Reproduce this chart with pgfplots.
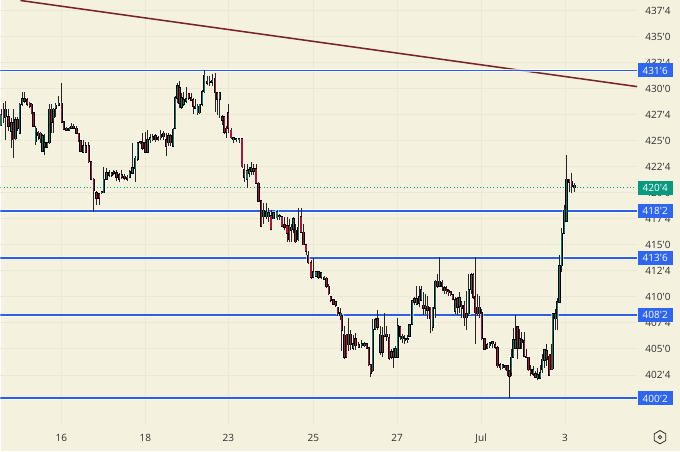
\documentclass[border=0pt]{standalone}
\usepackage{pgfplots}
\usepackage{pgfplotstable}
\usepackage{fontspec}
\pgfplotsset{compat=1.18}
\newfontfamily\tv{Open Sans}
\definecolor{bg}{HTML}{F4F1DE}
\definecolor{gridc}{HTML}{EBE8D5}
\definecolor{hblue}{HTML}{2B5FE8}
\definecolor{tagblue}{HTML}{2E66F2}
\definecolor{tgreen}{HTML}{089981}
\definecolor{cgreen}{HTML}{0A7A66}
\definecolor{cred}{HTML}{B5122C}
\definecolor{trend}{HTML}{7B2229}
\definecolor{lab}{HTML}{2E2E2E}
% x (pixel column) high low bodytop bodybottom
\pgfplotstableread{
x h l t b
3.3 428.6 426.7 428.0 427.2
8 428.0 425.9 427.3 426.4
12.7 428.0 423.3 426.7 425.1
17.3 427.3 425.9 427.0 426.2
24 429.7 428.6 429.0 428.8
26.7 429.1 428.3 428.9 428.5
29.3 428.7 428.1 428.6 428.3
31.3 428.6 427.6 428.5 427.7
33 427.8 426.3 427.7 426.4
37.7 425.9 425.1 425.8 425.5
44 425.6 423.6 424.8 424.4
51 428.5 425.7 428.0 426.8
61.3 430.5 426.7 428.6 426.8
63.3 426.9 426.0 426.8 426.1
66 426.3 425.9 426.2 426.0
73.3 426.6 426.2 426.4 426.2
76 426.4 425.6 426.2 425.7
78.3 425.7 424.9 425.7 425.1
80 425.1 424.0 425.0 424.0
85.3 424.9 423.8 424.5 423.9
88.3 424.9 422.9 424.5 423.0
90.7 423.1 421.2 423.0 421.3
93.3 421.4 418.2 421.3 420.2
96 420.2 418.8 420.0 419.5
98.7 419.9 418.8 419.9 419.5
111.3 422.0 421.5 421.9 421.7
116 422.2 421.1 421.9 421.5
118.7 421.9 421.0 421.7 421.3
124 421.8 421.2 421.6 421.4
126.7 421.7 421.1 421.5 421.3
140 425.0 424.7 424.9 424.8
142 425.7 424.1 424.8 424.3
144.7 425.8 423.8 424.8 423.9
155 425.6 424.9 425.5 425.1
157.7 425.5 425.0 425.3 425.1
163 425.9 425.1 425.7 425.4
165.7 425.7 423.5 425.1 424.5
170 425.6 424.5 425.5 424.8
179 430.7 428.1 430.1 428.6
188.3 429.6 428.9 429.5 429.1
190.7 429.6 428.8 429.1 428.9
192.7 429.1 427.6 428.9 428.3
195 429.0 428.0 428.3 428.1
206.7 431.2 430.4 430.7 430.5
214.7 431.5 427.8 431.0 429.6
217 429.7 427.5 429.6 429.0
221.7 427.5 426.5 427.3 427.0
224 427.3 425.6 427.3 425.8
226 426.4 425.3 426.2 425.8
228 428.5 425.7 427.7 426.2
230.7 426.2 425.2 426.0 425.3
241.7 425.3 422.4 425.2 422.5
244 422.8 421.0 422.2 421.5
255.7 422.8 420.9 422.3 420.9
258.3 421.0 419.1 420.9 419.2
261 419.3 416.7 419.2 416.8
270.7 418.3 416.4 417.8 416.5
279.3 418.0 417.4 417.8 417.7
281.7 417.8 416.8 417.7 416.8
284.3 417.7 416.4 416.9 416.7
286.7 417.7 415.3 416.8 416.1
289 417.5 415.3 416.8 415.5
295.3 417.0 415.2 416.4 415.3
300.7 418.5 416.2 417.7 416.2
303.3 417.0 415.0 416.2 415.0
305.7 415.1 414.0 415.0 414.4
308 414.4 413.2 414.0 413.3
310.7 413.5 411.7 413.3 411.9
318.3 412.5 411.7 412.4 411.9
324 412.0 411.6 411.9 411.7
326.3 411.9 410.9 411.8 411.0
328.7 411.2 410.2 411.0 410.3
330.7 410.1 409.5 410.0 409.7
333.3 409.8 409.2 409.7 409.3
335.7 409.6 409.0 409.5 409.2
337.7 409.0 408.2 409.0 408.4
341.7 408.5 404.8 408.2 406.8
344 407.2 404.0 406.4 404.2
346 406.4 404.2 406.3 404.2
350.7 406.8 404.9 406.4 405.4
355.3 406.5 404.9 406.0 405.3
358.7 405.7 405.1 405.4 405.2
366.7 405.5 405.0 405.5 405.1
368.7 405.2 403.4 405.1 403.5
370.7 403.5 402.3 403.5 402.7
377.3 408.7 406.8 407.9 407.1
382.3 407.1 404.2 406.3 404.7
386.7 407.2 405.8 406.4 406.2
389 406.4 403.9 406.1 404.1
393.3 405.1 403.2 404.7 404.2
400 407.2 405.9 407.1 406.2
404.7 406.3 405.5 406.0 405.8
414.3 410.0 409.2 409.8 409.5
419 411.0 409.0 410.0 409.4
423.3 410.5 408.3 409.2 408.9
427.3 410.1 407.9 409.1 408.7
430 409.0 406.5 409.0 407.9
437.3 412.2 410.9 411.5 411.0
442 411.6 410.6 411.4 411.0
444.3 411.0 410.3 410.9 410.6
446.7 411.0 410.3 410.7 410.5
448.7 410.8 410.1 410.6 410.4
450.7 410.6 410.1 410.5 410.2
452.7 410.3 409.7 410.2 409.8
457.3 410.0 408.3 409.8 409.0
461.7 409.6 408.0 409.2 408.9
464 409.6 407.2 409.2 408.0
473 412.3 409.8 412.1 410.0
475 413.8 405.5 410.0 408.5
477.3 410.3 408.2 409.0 408.4
481.7 408.8 405.9 408.5 406.0
484.3 406.0 404.9 406.0 405.0
492.3 405.8 405.1 405.7 405.5
495 405.7 405.0 405.4 405.2
497.3 405.3 403.2 405.1 403.4
500 403.7 403.0 403.5 403.2
505 403.5 403.0 403.4 403.2
507.3 403.5 402.4 403.4 402.9
509.3 403.0 400.3 402.9 402.4
517.3 407.2 404.0 407.1 405.1
521.7 406.6 405.0 405.9 405.6
524 406.6 404.2 405.8 404.3
526 405.0 404.2 404.3 404.2
528.3 404.2 402.9 404.2 403.0
530.7 403.5 402.4 403.0 402.7
535.3 402.9 402.2 402.6 402.3
546.7 405.5 403.4 404.8 404.0
549 404.5 402.5 404.3 402.5
551 405.5 403.0 404.5 403.0
569 421.3 420.1 421.3 421.0
571.7 421.9 420.0 421.1 420.6
}\downbars
\pgfplotstableread{
x h l t b
0.7 428.0 426.4 427.5 426.5
5.3 428.8 425.1 428.0 427.3
10.7 427.2 424.3 426.7 425.9
15 427.3 425.1 427.0 425.2
19.3 428.6 425.7 428.5 425.7
21.7 429.7 428.3 429.0 428.5
35.3 426.4 424.6 426.2 424.9
40 425.8 424.8 425.7 425.2
42 425.6 424.0 425.5 424.0
46.7 424.9 424.3 424.8 424.4
49 428.5 424.7 428.0 424.8
53.3 428.1 425.7 428.0 427.2
55.3 428.6 427.3 428.4 428.1
58.3 429.3 428.3 428.6 428.4
68.7 426.3 426.0 426.2 426.0
71 426.7 426.1 426.4 426.2
82.7 425.1 423.8 424.5 423.9
101.3 420.1 419.9 420.1 420.0
103.3 422.5 420.0 421.3 420.0
106 422.4 421.3 421.9 421.3
108.7 422.2 421.5 421.9 421.7
113.3 422.2 421.7 422.0 421.9
121.3 422.2 421.3 421.7 421.5
129.3 422.2 421.5 422.0 421.5
132 424.8 421.8 422.4 421.9
134.7 423.5 421.0 423.3 422.3
137.3 424.9 423.1 424.8 423.2
147 426.0 423.9 425.1 423.9
149.7 425.6 424.8 425.3 425.1
152.3 425.6 425.0 425.4 425.1
160.3 426.0 425.1 425.6 425.3
168 425.7 424.5 425.5 424.8
172.7 426.2 424.4 426.1 424.5
174.7 429.3 426.2 429.1 426.2
177 430.5 428.6 430.3 429.1
181 429.6 428.0 429.1 428.2
183.3 429.7 428.3 428.9 428.5
185.7 430.2 428.6 429.0 428.8
197.3 428.5 427.5 428.3 427.7
199.3 428.5 427.6 428.5 427.7
201.7 429.9 428.3 429.7 428.5
204 431.8 429.6 431.3 429.7
209.3 431.2 430.3 430.7 430.6
212 431.4 430.3 430.8 430.6
219.3 429.7 427.2 429.6 429.0
233.3 425.4 424.8 425.3 425.1
236 425.3 424.9 425.2 425.1
238.7 425.3 424.8 425.2 425.1
246.7 422.8 420.5 422.1 421.3
249 422.5 421.5 422.2 421.9
251 423.0 421.7 422.4 422.1
253.3 422.8 421.7 422.3 422.1
263.3 419.0 417.0 418.3 417.7
266 419.0 417.5 418.2 417.7
268.3 418.5 417.2 418.1 417.7
273.3 418.2 417.5 418.1 417.5
276.7 418.3 417.4 418.2 417.6
291 417.0 415.3 416.7 416.4
293.3 417.7 416.1 417.5 416.5
298 418.5 415.4 416.7 415.5
313 413.7 411.8 412.4 411.9
315.7 412.5 411.9 412.4 412.0
321 412.4 411.7 412.3 411.9
340 408.9 407.8 408.5 408.2
348.3 408.0 404.8 406.4 405.4
353 406.3 404.9 405.5 405.1
361.7 405.9 405.1 405.5 405.3
364.3 405.7 405.2 405.5 405.3
372.7 407.9 402.8 406.9 402.9
375 408.0 406.8 407.8 406.9
380 407.2 404.4 406.4 404.7
384.7 408.5 406.2 406.4 406.2
391.3 405.0 404.0 404.7 404.2
395.3 405.3 404.2 405.0 404.2
397.7 408.0 404.1 407.2 404.2
402.3 406.4 405.6 406.2 406.0
407.3 406.3 405.6 406.0 405.9
409.3 407.4 406.2 407.3 406.2
412 409.7 407.4 409.6 407.4
416.7 411.0 409.2 409.8 409.3
421 411.0 409.7 410.7 409.7
425.3 410.3 408.4 409.1 408.9
432.7 409.0 406.7 409.0 407.1
435 411.6 408.0 411.5 408.9
439.7 413.8 411.0 411.5 411.0
455 410.0 408.4 409.7 408.6
459.3 410.5 408.5 409.9 409.1
466.3 410.6 406.8 408.4 408.0
468.7 412.2 408.2 410.7 408.4
471 412.3 410.3 412.1 410.7
479.3 410.1 408.0 409.0 408.4
487 405.6 405.0 405.4 405.1
489.7 405.7 405.1 405.6 405.3
502.7 403.6 403.1 403.5 403.2
511 405.0 402.4 404.2 402.7
513 407.0 404.2 405.9 404.2
515 408.3 405.1 405.9 405.1
519.3 406.9 405.0 406.0 405.1
533 403.4 402.4 403.0 402.6
537.7 403.2 402.0 402.5 402.2
540 403.5 402.1 402.7 402.2
542 404.5 402.7 404.0 403.0
544.3 405.0 403.2 404.9 403.9
552.7 408.5 403.0 408.4 403.1
555 408.8 406.8 408.4 407.9
557 409.9 406.8 409.5 407.9
559.3 414.0 409.5 413.0 409.5
561.7 416.6 412.4 416.1 413.0
564 418.8 416.0 418.3 416.1
566.3 423.6 417.2 421.3 417.3
574.3 420.9 420.1 420.7 420.5
}\upbars
\newcommand{\halo}[1]{%
  \addplot[draw=none,mark=none,forget plot,error bars/.cd,y dir=plus,y explicit,error mark=none,
    error bar style={draw=white,opacity=0.55,line width=2.7pt}]
    table[x=x,y expr=\thisrow{b}-0.12,y error expr=\thisrow{t}-\thisrow{b}+0.24] {#1};
}
\newcommand{\candles}[2]{%
  \addplot[draw=none,mark=none,forget plot,error bars/.cd,y dir=plus,y explicit,error mark=none,
    error bar style={draw=black!85,line width=0.7pt}]
    table[x=x,y=l,y error expr=\thisrow{h}-\thisrow{l}] {#1};
  \addplot[draw=none,mark=none,forget plot,error bars/.cd,y dir=plus,y explicit,error mark=none,
    error bar style={draw=black,line width=1.7pt}]
    table[x=x,y expr=\thisrow{b}-0.06,y error expr=\thisrow{t}-\thisrow{b}+0.12] {#1};
  \addplot[draw=none,mark=none,forget plot,error bars/.cd,y dir=plus,y explicit,error mark=none,
    error bar style={draw=#2,line width=0.8pt}]
    table[x=x,y=b,y error expr=\thisrow{t}-\thisrow{b}] {#1};
}
\newcommand{\levelline}[1]{%
  \addplot[white,opacity=0.7,line width=2.4pt,forget plot] coordinates {(0,#1)(637,#1)};
  \addplot[hblue,line width=1.4pt,forget plot] coordinates {(0,#1)(637,#1)};
}
\newcommand{\tagnode}[3]{%
  \node[fill=#3,text=white,font=\tv\fontsize{7.5}{9}\selectfont,minimum width=26.25pt,minimum height=10.5pt,inner sep=0pt] at (axis cs:655.2,#1) {#2};
}
\pgfplotsset{base/.style={
  scale only axis,width=477.75pt,height=318.75pt,
  at={(0pt,19.5pt)},anchor=south west,
  xmin=0,xmax=637,ymin=397.68,ymax=438.468}}
\begin{document}
\begin{tikzpicture}
\fill[bg] (0pt,0pt) rectangle (510pt,338.25pt);
\begin{axis}[base,
  axis line style={draw=none},
  major tick length=0pt,
  grid=major,grid style={gridc,line width=0.75pt},
  xtick={61,145,228,313,397,481,565},
  xticklabels={16,18,23,25,27,Jul,3},
  ytick={402.5,405,407.5,410,412.5,415,417.5,420,422.5,425,427.5,430,432.5,435,437.5},
  yticklabels={402'4,405'0,407'4,410'0,412'4,415'0,417'4,420'0,422'4,425'0,427'4,430'0,432'4,435'0,437'4},
  ticklabel pos=right,
  xticklabel pos=bottom,
  tick label style={font=\tv\fontsize{7.5}{9}\selectfont,text=lab},
  yticklabel style={xshift=2.75pt},
  xticklabel style={yshift=-3pt},
]
\addplot[tgreen,dotted,line width=0.5pt,forget plot] coordinates {(0,420.5)(637,420.5)};
\addplot[trend,line width=1.15pt,forget plot] coordinates {(20,438.468)(637,430.2)};
\levelline{431.75}
\levelline{418.25}
\levelline{413.75}
\levelline{408.25}
\levelline{400.25}
\halo{\downbars}
\halo{\upbars}
\candles{\downbars}{cred}
\candles{\upbars}{cgreen}
\end{axis}
\begin{axis}[base,hide axis,clip=false]
\tagnode{431.75}{431'6}{tagblue}
\tagnode{418.25}{418'2}{tagblue}
\tagnode{413.75}{413'6}{tagblue}
\tagnode{408.25}{408'2}{tagblue}
\tagnode{400.25}{400'2}{tagblue}
\tagnode{420.5}{420'4}{tgreen}
\end{axis}
\draw[lab,line width=0.6pt] (495pt,10.5pt) ++(30:5pt) -- ++(150:5pt) -- ++(210:5pt) -- ++(270:5pt) -- ++(330:5pt) -- ++(30:5pt) -- cycle;
\draw[lab,line width=0.6pt] (495pt,10.5pt) circle (1.3pt);
\end{tikzpicture}
\end{document}
